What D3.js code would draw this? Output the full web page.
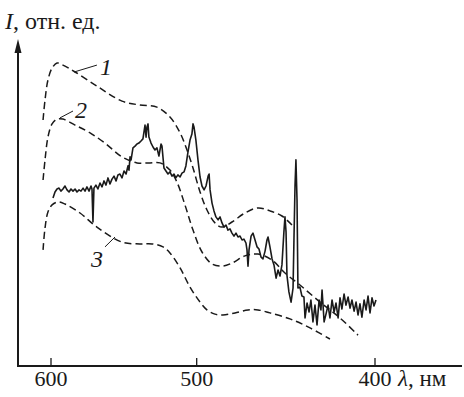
<!DOCTYPE html>
<html>
<head>
<meta charset="utf-8">
<script src="https://cdn.jsdelivr.net/npm/d3@7"></script>
<style>
  html, body { margin: 0; padding: 0; background: #fff; }
  svg { display: block; }
  text { font-family: "Liberation Serif", "Times New Roman", Times, serif; fill: #1a1a1a; }
</style>
</head>
<body>
<svg id="chart" width="464" height="397"></svg>
<script>
// wavelength ticks, nm
const xTicks = [600, 500, 400];

// dashed curves 1-3: [wavelength nm, intensity rel. units]
const curve1 = [
  [606.0, 82.0], [604.5, 88.7], [602.3, 95.3], [599.2, 99.3], [595.5, 101.0], [591.1, 100.3],
  [582.2, 98.0], [566.5, 93.3], [549.0, 88.3], [536.8, 87.0], [525.5, 86.3], [517.0, 83.0],
  [510.5, 77.7], [506.1, 72.0], [502.3, 66.0], [497.9, 58.0], [493.6, 52.0], [488.7, 47.7],
  [484.4, 46.3], [478.4, 48.0], [470.7, 51.0], [463.1, 52.7], [456.2, 51.7], [449.4, 50.0],
  [443.8, 47.0]
];
const curve2 = [
  [606.0, 62.0], [604.5, 68.7], [602.3, 76.3], [599.2, 80.7], [595.5, 82.3], [591.1, 82.3],
  [582.2, 80.3], [571.4, 77.7], [560.8, 74.3], [549.0, 69.7], [538.8, 67.7], [530.1, 67.7],
  [523.5, 67.7], [517.0, 65.3], [512.5, 61.3], [507.4, 53.7], [502.3, 45.3], [496.7, 38.0],
  [490.5, 34.0], [484.4, 33.3], [478.4, 34.3], [470.7, 36.7], [463.1, 37.3], [455.0, 35.3],
  [447.7, 31.0], [439.4, 27.0], [428.5, 21.3], [417.9, 16.0], [408.6, 10.3]
];
const curve3 = [
  [606.0, 38.7], [604.5, 46.0], [602.3, 51.3], [599.2, 53.7], [594.8, 54.7], [589.6, 54.0],
  [578.6, 51.0], [566.5, 46.3], [549.0, 41.3], [536.8, 40.7], [528.8, 40.7], [521.5, 39.7],
  [517.0, 37.7], [510.5, 32.7], [504.2, 26.3], [497.9, 21.3], [493.6, 18.7], [488.7, 17.3],
  [483.8, 17.0], [476.6, 17.7], [468.9, 18.7], [463.1, 18.7], [456.2, 17.7], [444.9, 15.7],
  [433.9, 12.7], [423.2, 9.0]
];

// measured spectrum (solid line)
const spectrum = [
  [598.5,56.0],[597.0,58.0],[595.5,59.0],[594.0,59.3],[592.6,58.3],[591.1,59.0],[589.6,60.0],[588.1,58.7],
  [586.6,58.0],[585.2,59.0],[583.7,58.3],[582.2,59.0],[580.8,58.0],[579.3,58.7],[577.9,58.3],[576.4,59.3],
  [575.0,58.3],[573.6,59.7],[572.1,58.3],[570.7,60.0],[570.0,59.0],[569.3,48.0],[568.6,59.3],[567.2,60.3],
  [565.8,59.0],[564.3,61.0],[562.9,59.7],[561.5,61.7],[560.1,60.3],[558.7,62.7],[557.3,60.7],[555.9,62.3],
  [554.5,63.3],[553.1,61.7],[551.8,63.7],[550.4,64.0],[549.0,62.7],[547.6,65.0],[546.2,64.0],[544.9,66.7],
  [544.2,65.3],[543.5,69.7],[542.8,68.7],[541.5,72.7],[540.1,73.3],[538.8,74.0],[537.5,74.3],[536.1,75.0],
  [534.8,75.7],[533.4,80.3],[532.7,76.3],[532.1,79.7],[531.4,80.7],[530.8,76.3],[529.4,74.3],[528.1,73.0],
  [526.8,72.0],[525.5,72.7],[524.2,70.0],[523.5,72.0],[522.8,74.0],[522.2,73.3],[520.9,66.0],[519.6,65.0],
  [518.3,64.0],[517.0,64.7],[515.7,63.3],[514.4,64.0],[513.2,62.7],[511.9,63.7],[510.5,63.0],[509.3,64.3],
  [508.0,64.7],[506.8,66.7],[505.5,71.3],[504.2,75.3],[503.0,77.3],[502.3,80.7],[501.7,79.7],[500.5,75.3],
  [499.2,68.7],[497.9,63.0],[496.7,60.0],[495.4,58.7],[494.2,60.0],[492.9,63.3],[492.3,64.0],[491.7,58.7],
  [490.5,54.3],[489.3,51.7],[488.1,49.7],[486.8,48.7],[485.6,49.7],[484.4,47.7],[483.2,46.3],[482.0,47.0],
  [480.8,45.3],[479.6,45.7],[478.4,44.3],[477.2,43.3],[476.0,44.3],[474.8,43.0],[473.6,43.3],[472.4,42.0],
  [471.3,42.3],[470.1,41.0],[469.5,38.7],[468.9,33.3],[468.3,38.7],[467.1,43.3],[466.0,44.3],[464.8,42.0],
  [463.6,39.7],[462.5,39.0],[461.3,36.3],[460.2,35.7],[459.0,38.3],[457.9,42.0],[457.3,43.0],[456.2,39.7],
  [455.0,35.7],[453.9,33.7],[452.7,29.3],[451.6,32.0],[450.5,30.0],[449.4,33.7],[448.3,44.7],[447.7,49.7],
  [447.1,44.7],[446.6,30.3],[445.5,24.7],[444.3,21.3],[443.2,26.0],[442.7,42.0],[442.1,60.3],[441.6,68.7],
  [441.0,55.3],[440.5,26.0],[439.4,26.3],[438.3,23.3],[437.2,23.0],[436.6,16.0],[435.5,21.0],[434.4,18.0],
  [433.4,22.0],[432.3,14.7],[431.2,20.3],[430.1,13.7],[429.0,22.0],[428.0,18.7],[427.4,25.3],[426.3,14.7],
  [425.3,17.3],[424.2,20.3],[423.2,16.0],[422.1,22.0],[421.0,18.0],[420.0,21.0],[418.9,16.0],[417.9,22.7],
  [416.9,19.0],[415.8,24.0],[414.8,20.3],[413.7,23.0],[412.7,19.3],[411.7,22.0],[410.6,18.3],[409.6,21.3],
  [408.6,17.0],[407.6,20.7],[406.6,16.3],[405.5,22.0],[404.5,18.7],[403.5,23.3],[402.5,17.7],[401.5,22.7],
  [400.5,20.0],[399.5,22.0]
];

// curve number labels: text position and leader line, in data units
const curveLabels = [
  {text: '1', at: [560.1, 97.0], from: [582.9, 98.0], to: [566.5, 100.3]},
  {text: '2', at: [577.9, 82.7], from: [593.3, 82.7], to: [583.7, 85.0]},
  {text: '3', at: [566.5, 33.0], from: [553.8, 43.0], to: [560.8, 39.7]}
];

const svg = d3.select('#chart');
const x = d3.scaleLog().domain([600, 400]).range([51, 375]);
const y = d3.scaleLinear().domain([0, 108]).range([366, 42]);
const ink = '#1a1a1a';

// axes
svg.append('line')
  .attr('x1', 18).attr('x2', 18)
  .attr('y1', y(0)).attr('y2', 50)
  .attr('stroke', ink).attr('stroke-width', 2);
svg.append('path')
  .attr('d', 'M18,39 L14.5,53 L21.5,53 Z')
  .attr('fill', ink);
svg.append('line')
  .attr('x1', 17).attr('x2', 462)
  .attr('y1', y(0)).attr('y2', y(0))
  .attr('stroke', ink).attr('stroke-width', 2);

const tick = svg.append('g').selectAll('g')
  .data(xTicks)
  .enter().append('g')
  .attr('transform', d => `translate(${x(d)},${y(0)})`);
tick.append('line')
  .attr('y1', 0).attr('y2', -8)
  .attr('stroke', ink).attr('stroke-width', 1.3);
tick.append('text')
  .attr('y', 20)
  .attr('text-anchor', 'middle')
  .attr('font-size', 22)
  .text(d => d);

const xLabel = svg.append('text')
  .attr('x', 398).attr('y', y(0) + 20)
  .attr('font-size', 23);
xLabel.append('tspan').attr('font-style', 'italic').text('λ');
xLabel.append('tspan').text(', нм');

const yLabel = svg.append('text')
  .attr('x', 5).attr('y', 29)
  .attr('font-size', 24);
yLabel.append('tspan').attr('font-style', 'italic').text('I');
yLabel.append('tspan').text(', отн. ед.');

// curves
const line = d3.line()
  .x(d => x(d[0]))
  .y(d => y(d[1]));
const smooth = d3.line()
  .x(d => x(d[0]))
  .y(d => y(d[1]))
  .curve(d3.curveCatmullRom.alpha(0.5));

svg.append('g').selectAll('path')
  .data([curve1, curve2, curve3])
  .enter().append('path')
  .attr('d', smooth)
  .attr('fill', 'none')
  .attr('stroke', ink)
  .attr('stroke-width', 1.5)
  .attr('stroke-dasharray', '7,4');

svg.append('path')
  .datum(spectrum)
  .attr('d', line)
  .attr('fill', 'none')
  .attr('stroke', ink)
  .attr('stroke-width', 1.6)
  .attr('stroke-linejoin', 'round');

// curve numbers
const lab = svg.append('g').selectAll('g')
  .data(curveLabels)
  .enter().append('g');
lab.append('line')
  .attr('x1', d => x(d.from[0])).attr('y1', d => y(d.from[1]))
  .attr('x2', d => x(d.to[0])).attr('y2', d => y(d.to[1]))
  .attr('stroke', ink).attr('stroke-width', 1);
lab.append('text')
  .attr('x', d => x(d.at[0])).attr('y', d => y(d.at[1]))
  .attr('text-anchor', 'middle')
  .attr('font-size', 24)
  .attr('font-style', 'italic')
  .text(d => d.text);
</script>
</body>
</html>
